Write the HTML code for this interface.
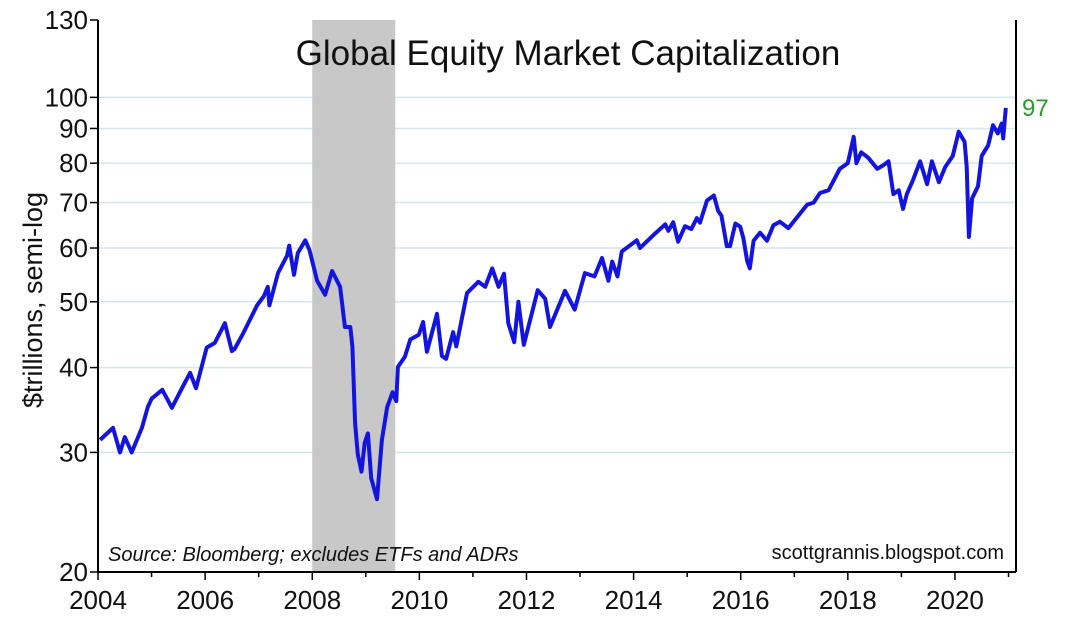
<!DOCTYPE html>
<html><head><meta charset="utf-8">
<style>
html,body{margin:0;padding:0;background:#fff;}
svg{display:block;font-family:"Liberation Sans",sans-serif;}
</style></head>
<body>
<svg id="chart" width="1080" height="623" viewBox="0 0 1080 623" xmlns="http://www.w3.org/2000/svg">
<g id="grid"></g>
<rect id="recession" fill="#c8c8c8"></rect>
<g id="axes"></g>
<path id="line" fill="none" stroke="#1414e0" stroke-width="4" stroke-linejoin="round"></path>
<text x="568" y="65" font-size="35" text-anchor="middle" fill="#111">Global Equity Market Capitalization</text>
<text transform="translate(42,300) rotate(-90)" font-size="27" text-anchor="middle" fill="#111">$trillions, semi-log</text>
<text x="108" y="561" font-size="20" font-style="italic" fill="#111">Source: Bloomberg; excludes ETFs and ADRs</text>
<text x="1004" y="559" font-size="20" text-anchor="end" fill="#111">scottgrannis.blogspot.com</text>
<text id="lastLabel" font-size="24" fill="#2a9a2a">97</text>
</svg>
<script>
const yTicks=[130,100,90,80,70,60,50,40,30,20];
const gridVals=[100,90,80,70,60,50,40,30];
const xTickLabels=[2004,2006,2008,2010,2012,2014,2016,2018,2020];
const recessionStart=2008.0, recessionEnd=2009.55;
const years=[2004.04,2004.28,2004.41,2004.5,2004.63,2004.82,2004.93,2005.0,2005.2,2005.38,2005.53,2005.72,2005.83,2006.03,2006.18,2006.37,2006.5,2006.55,2006.71,2006.97,2007.1,2007.17,2007.2,2007.36,2007.53,2007.57,2007.66,2007.73,2007.87,2007.95,2008.09,2008.24,2008.37,2008.52,2008.61,2008.71,2008.75,2008.8,2008.85,2008.92,2008.98,2009.04,2009.1,2009.21,2009.3,2009.4,2009.5,2009.57,2009.6,2009.73,2009.83,2009.99,2010.07,2010.14,2010.33,2010.42,2010.5,2010.63,2010.69,2010.89,2011.1,2011.23,2011.36,2011.48,2011.58,2011.66,2011.77,2011.85,2011.95,2012.21,2012.35,2012.44,2012.72,2012.9,2013.09,2013.27,2013.41,2013.53,2013.6,2013.7,2013.78,2014.06,2014.12,2014.4,2014.59,2014.65,2014.74,2014.83,2014.96,2015.08,2015.18,2015.24,2015.37,2015.5,2015.58,2015.64,2015.74,2015.8,2015.9,2015.99,2016.05,2016.12,2016.17,2016.24,2016.36,2016.49,2016.61,2016.73,2016.89,2017.04,2017.24,2017.36,2017.48,2017.64,2017.72,2017.85,2018.0,2018.11,2018.16,2018.25,2018.38,2018.55,2018.67,2018.76,2018.85,2018.95,2019.03,2019.1,2019.22,2019.35,2019.48,2019.57,2019.7,2019.82,2019.96,2020.07,2020.18,2020.22,2020.26,2020.32,2020.43,2020.5,2020.62,2020.71,2020.8,2020.87,2020.9,2020.95];
const values=[31.3,32.6,30,31.6,30,32.6,35,36,37.1,34.9,36.8,39.3,37.3,42.8,43.5,46.5,42.3,42.6,44.9,49.4,51,52.6,49.4,55.1,58.5,60.5,54.8,59,61.6,59.5,53.7,51.2,55.5,52.6,45.9,45.9,43,33.1,29.8,28.1,31,32,27.5,25.6,31.3,35,36.8,35.7,40.1,41.5,44,44.7,46.7,42.2,48,41.6,41.2,45.1,43,51.5,53.5,52.6,56,52.6,55,46.5,43.6,50,43.2,52,50.5,45.9,51.9,48.7,55.1,54.5,58,53.7,57.3,54.5,59.3,61.6,60,63,65,63.6,65.5,61.3,64.6,64,66.4,65.4,70.5,71.7,68,67,60.4,60.4,65.2,64.5,62,57.5,56,61.5,63.2,61.5,64.8,65.6,64.2,66.4,69.5,70,72.3,73,75,78.5,80,87.5,80,83,81.5,78.5,79.5,80.5,72,73,68.5,72,75.7,80.5,74.5,80.5,75,79,82,89,86,79,62.3,71,74,82,85,91,88.5,91.5,87,96.5];
const NS="http://www.w3.org/2000/svg";
const L=98,R=1016,T=20,B=572;
function xs(yr){return L+(yr-2004)*53.56;}
function ys(v){return T+Math.log10(130/v)/Math.log10(130/20)*(B-T);}
function mk(tag,attrs,parent){const e=document.createElementNS(NS,tag);for(const k in attrs)e.setAttribute(k,attrs[k]);parent.appendChild(e);return e;}
const grid=document.getElementById('grid'),axes=document.getElementById('axes');
gridVals.forEach(v=>{const g=mk('line',{x1:L,x2:R,y1:ys(v),y2:ys(v),stroke:'#d4e6ee','stroke-width':1.5},grid);

});
const rc=document.getElementById('recession');
rc.setAttribute('x',xs(recessionStart));rc.setAttribute('width',xs(recessionEnd)-xs(recessionStart));rc.setAttribute('y',T);rc.setAttribute('height',B-T);
mk('line',{x1:L,x2:L,y1:T,y2:B,stroke:'#000','stroke-width':2},axes);
mk('line',{x1:R,x2:R,y1:T,y2:B,stroke:'#000','stroke-width':2},axes);
mk('line',{x1:L,x2:R,y1:B,y2:B,stroke:'#000','stroke-width':2},axes);
yTicks.forEach(v=>{mk('line',{x1:L-8,x2:L,y1:ys(v),y2:ys(v),stroke:'#000','stroke-width':1.5},axes);
const t=mk('text',{x:L-10,y:ys(v)+9,'font-size':26,'text-anchor':'end',fill:'#111'},axes);t.textContent=v;

});
for(let yr=2004;yr<=2021;yr++){mk('line',{x1:xs(yr),x2:xs(yr),y1:B,y2:B+(yr%2==0?8:5),stroke:'#000','stroke-width':1.5},axes);}
xTickLabels.forEach(yr=>{const t=mk('text',{x:xs(yr),y:609,'font-size':26,'text-anchor':'middle',fill:'#111'},axes);t.textContent=yr;

});
let d='';years.forEach((yr,i)=>{d+=(i?'L':'M')+xs(yr).toFixed(1)+','+ys(values[i]).toFixed(1);});
document.getElementById('line').setAttribute('d',d);
const ll=document.getElementById('lastLabel');
ll.setAttribute('x',1022);ll.setAttribute('y',ys(values[values.length-1])+8);
</script>
</body></html>
